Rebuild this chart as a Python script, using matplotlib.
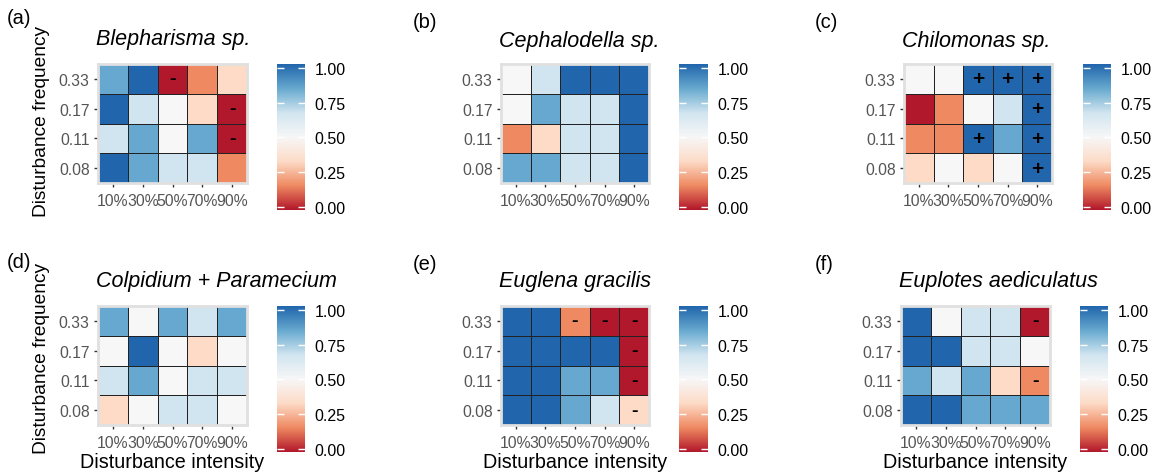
import numpy as np
import matplotlib
matplotlib.use("Agg")
import matplotlib.pyplot as plt
from matplotlib.colors import LinearSegmentedColormap

plt.rcParams["font.family"] = ["Liberation Sans", "DejaVu Sans"]

intensity = ["10%", "30%", "50%", "70%", "90%"]
frequency = ["0.08", "0.11", "0.17", "0.33"]  # bottom to top

# values in sixths, rows bottom (0.08) to top (0.33)
blepharisma = np.array([[6, 5, 4, 4, 1],
                        [4, 5, 3, 5, 0],
                        [6, 4, 3, 2, 0],
                        [5, 6, 0, 1, 2]]) / 6
cephalodella = np.array([[5, 5, 4, 4, 6],
                         [1, 2, 4, 4, 6],
                         [3, 5, 4, 4, 6],
                         [3, 4, 6, 6, 6]]) / 6
chilomonas = np.array([[2, 3, 2, 3, 6],
                       [1, 1, 6, 5, 6],
                       [0, 1, 3, 4, 6],
                       [3, 3, 6, 6, 6]]) / 6
colp_param = np.array([[2, 3, 4, 4, 3],
                       [4, 5, 3, 4, 4],
                       [3, 6, 3, 2, 3],
                       [5, 3, 5, 4, 5]]) / 6
euglena = np.array([[6, 6, 5, 4, 2],
                    [6, 6, 5, 5, 0],
                    [6, 6, 6, 6, 0],
                    [6, 6, 1, 0, 0]]) / 6
euplotes = np.array([[6, 6, 5, 5, 5],
                     [5, 4, 5, 2, 1],
                     [6, 6, 4, 4, 3],
                     [6, 3, 4, 4, 0]]) / 6

sig_blepharisma = [["", "", "", "", ""],
                   ["", "", "", "", "-"],
                   ["", "", "", "", "-"],
                   ["", "", "-", "", ""]]
sig_cephalodella = [[""] * 5 for _ in range(4)]
sig_chilomonas = [["", "", "", "", "+"],
                  ["", "", "+", "", "+"],
                  ["", "", "", "", "+"],
                  ["", "", "+", "+", "+"]]
sig_colp_param = [[""] * 5 for _ in range(4)]
sig_euglena = [["", "", "", "", "-"],
               ["", "", "", "", "-"],
               ["", "", "", "", "-"],
               ["", "", "-", "-", "-"]]
sig_euplotes = [["", "", "", "", ""],
                ["", "", "", "", "-"],
                ["", "", "", "", ""],
                ["", "", "", "", "-"]]

titles = ["Blepharisma sp.", "Cephalodella sp.", "Chilomonas sp.",
          "Colpidium + Paramecium", "Euglena gracilis", "Euplotes aediculatus"]
letters = ["(a)", "(b)", "(c)", "(d)", "(e)", "(f)"]
data = [blepharisma, cephalodella, chilomonas, colp_param, euglena, euplotes]
sigs = [sig_blepharisma, sig_cephalodella, sig_chilomonas,
        sig_colp_param, sig_euglena, sig_euplotes]

cmap = LinearSegmentedColormap.from_list(
    "rdbu7", ["#B2182B", "#EF8A62", "#FDDBC7", "#F7F7F7",
              "#D1E5F0", "#67A9CF", "#2166AC"])

W, H = 1154, 477
fig = plt.figure(figsize=(W / 100, H / 100), dpi=100)


def box(x0, y0, x1, y1):
    return [x0 / W, 1 - y1 / H, (x1 - x0) / W, (y1 - y0) / H]


# pixel layout: heatmap x, colorbar x, row y
heat_x = [(98, 247), (501, 649), (904, 1052), (98, 247), (501, 649), (901, 1050)]
cbar_x = [(277, 305), (679, 708), (1083, 1111), (277, 305), (679, 708), (1080, 1108)]
row_y = [(65, 184, 211), (307, 426, 453)]
lab_pos = [(7, 18), (413, 22), (815, 22), (7, 262), (413, 265), (815, 265)]
title_y = [39, 42, 42, 282, 282, 282]

grey = "#555555"
for i in range(6):
    r = i // 3
    hx0, hx1 = heat_x[i]
    y0, y1, yc = row_y[r]
    ax = fig.add_axes(box(hx0, y0, hx1, y1))
    ax.pcolormesh(data[i], cmap=cmap, vmin=0, vmax=1,
                  edgecolors="#222222", linewidth=0.7)
    for rr in range(4):
        for cc in range(5):
            s = sigs[i][rr][cc]
            if s:
                ax.text(cc + 0.5, rr + 0.5, s, ha="center", va="center",
                        fontsize=15 if s == "+" else 14, fontweight="bold",
                        color="black")
    ax.set_xlim(0, 5)
    ax.set_ylim(0, 4)
    ax.set_xticks(np.arange(5) + 0.5)
    ax.set_xticklabels(intensity)
    ax.set_yticks(np.arange(4) + 0.5)
    ax.set_yticklabels(frequency)
    ax.tick_params(length=3, width=1, color="#333333", labelcolor=grey,
                   labelsize=11.3, pad=3)
    ax.tick_params(axis="x", pad=4)
    for sp in ax.spines.values():
        sp.set_color("#E0E0E0")
        sp.set_linewidth(2)
    # ggplot-style title, left aligned with the panel
    fig.text((hx0 - 2) / W, 1 - title_y[i] / H, titles[i],
             fontsize=15.5, style="italic", ha="left", va="center")
    if i % 3 == 0:
        fig.text(42 / W, 1 - (yc - 90 if r == 0 else yc - 95) / H,
                 "Disturbance frequency", rotation=90, fontsize=13.8,
                 ha="center", va="center")
    if r == 1:
        ax.set_xlabel("Disturbance intensity", fontsize=14.2, labelpad=2)
    lx, ly = lab_pos[i]
    fig.text(lx / W, 1 - ly / H, letters[i], fontsize=14.5, ha="left", va="center")

    # colorbar
    cx0, cx1 = cbar_x[i]
    cax = fig.add_axes(box(cx0, y0, cx1, yc))
    grad = np.linspace(0, 1, 256).reshape(-1, 1)
    cax.imshow(grad, cmap=cmap, aspect="auto", origin="lower",
               extent=(0, 1, -0.025, 1.03))
    cax.set_xlim(0, 1)
    cax.set_ylim(-0.025, 1.03)
    cax.set_xticks([])
    cax.set_yticks([0, 0.25, 0.5, 0.75, 1])
    cax.set_yticklabels(["0.00", "0.25", "0.50", "0.75", "1.00"])
    cax.tick_params(axis="y", direction="in", length=5, width=1,
                    color="white", left=True, right=True, labelleft=False,
                    labelright=True, labelsize=11.5, labelcolor="black", pad=7)
    for sp in cax.spines.values():
        sp.set_visible(False)

fig.savefig("out.png", dpi=100)
